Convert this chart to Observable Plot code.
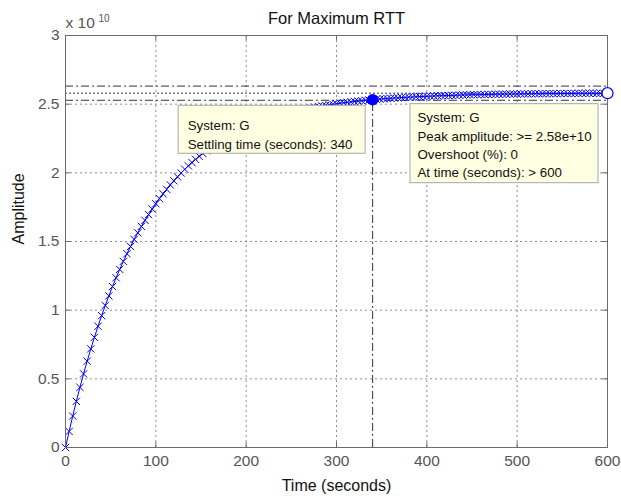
<!DOCTYPE html>
<html>
<head>
<meta charset="utf-8">
<script src="https://cdn.jsdelivr.net/npm/d3@7"></script>
<script src="https://cdn.jsdelivr.net/npm/@observablehq/plot@0.6"></script>
<style>
  html, body { margin: 0; padding: 0; background: #fff; }
  #chart svg { display: block; }
</style>
</head>
<body>
<div id="chart"></div>
<script>
// Step response samples (time in seconds, amplitude in units of 1e10)
const time = [0,4,8,12,16,20,24,28,32,36,40,44,48,52,56,60,64,68,72,76,80,84,88,92,96,100,104,108,112,116,120,124,128,132,136,140,144,148,152,156,160,164,168,172,176,180,184,188,192,196,200,204,208,212,216,220,224,228,232,236,240,244,248,252,256,260,264,268,272,276,280,284,288,292,296,300,304,308,312,316,320,324,328,332,336,340,344,348,352,356,360,364,368,372,376,380,384,388,392,396,400,404,408,412,416,420,424,428,432,436,440,444,448,452,456,460,464,468,472,476,480,484,488,492,496,500,504,508,512,516,520,524,528,532,536,540,544,548,552,556,560,564,568,572,576,580,584,588,592,596,600];
const amplitude = [
  0, 0.117, 0.229, 0.336, 0.438,
  0.536, 0.629, 0.718, 0.802, 0.883,
  0.960, 1.034, 1.104, 1.172, 1.236,
  1.297, 1.355, 1.411, 1.464, 1.515,
  1.563, 1.610, 1.654, 1.696, 1.736,
  1.775, 1.812, 1.847, 1.880, 1.912,
  1.942, 1.971, 1.999, 2.026, 2.051,
  2.075, 2.098, 2.120, 2.141, 2.161,
  2.180, 2.198, 2.216, 2.233, 2.248,
  2.264, 2.278, 2.292, 2.305, 2.318,
  2.330, 2.341, 2.352, 2.363, 2.373,
  2.382, 2.391, 2.400, 2.408, 2.416,
  2.424, 2.431, 2.438, 2.444, 2.450,
  2.456, 2.462, 2.468, 2.473, 2.478,
  2.482, 2.487, 2.491, 2.495, 2.499,
  2.503, 2.507, 2.510, 2.513, 2.517,
  2.519, 2.522, 2.525, 2.528, 2.530,
  2.532, 2.535, 2.537, 2.539, 2.541,
  2.543, 2.545, 2.546, 2.548, 2.549,
  2.551, 2.552, 2.554, 2.555, 2.556,
  2.557, 2.558, 2.560, 2.561, 2.562,
  2.562, 2.563, 2.564, 2.565, 2.566,
  2.567, 2.567, 2.568, 2.569, 2.569,
  2.570, 2.570, 2.571, 2.571, 2.572,
  2.572, 2.573, 2.573, 2.574, 2.574,
  2.574, 2.575, 2.575, 2.575, 2.576,
  2.576, 2.576, 2.576, 2.577, 2.577,
  2.577, 2.577, 2.578, 2.578, 2.578,
  2.578, 2.578, 2.579, 2.579, 2.579,
  2.579, 2.579, 2.579, 2.579, 2.579, 2.580
];

const xTicks = [0, 100, 200, 300, 400, 500, 600];
const xTickLabels = ["0", "100", "200", "300", "400", "500", "600"];
const yTicks = [0, 0.5, 1, 1.5, 2, 2.5, 3];
const yTickLabels = ["0", "0.5", "1", "1.5", "2", "2.5", "3"];

const finalValue = [2.58];
const settleBounds = [2.6316, 2.5284];
const settlePoint = [{t: 340, y: 2.532}];
const peakPoint = [{t: 600, y: 2.580}];

const titleText = "For Maximum RTT";
const xLabel = "Time (seconds)";
const yLabel = "Amplitude";
const settleTip = ["System: G", "Settling time (seconds): 340"];
const peakTip = ["System: G", "Peak amplitude: >= 2.58e+10", "Overshoot (%): 0", "At time (seconds): > 600"];

const samples = time.map((t, i) => ({t, y: amplitude[i]}));

const FONT = "'Liberation Sans', Arial, Helvetica, sans-serif";
const GRID = "#8c8c8c";
const AXIS = "#6b6b6b";
const TICKTXT = "#555555";

// datatip box drawn relative to an anchor datum (pixel offsets from the anchor)
function tipBox(datum, offX, offY, w, h) {
  return (index, scales) => {
    const px = scales.x(datum.t), py = scales.y(datum.y);
    const g = d3.create("svg:g");
    g.append("rect")
      .attr("x", px + offX).attr("y", py + offY)
      .attr("width", w).attr("height", h)
      .attr("fill", "#ffffe1")
      .attr("stroke", "#a8a8a8")
      .attr("stroke-width", 1);
    return g.node();
  };
}

const chart = Plot.plot({
  width: 621,
  height: 498,
  marginLeft: 65,
  marginRight: 14,
  marginTop: 35,
  marginBottom: 51,
  style: {fontFamily: FONT, background: "#fff"},
  x: {domain: [0, 600], axis: null},
  y: {domain: [0, 3], axis: null},
  marks: [
    // grid
    Plot.ruleX(xTicks, {x: d => d, stroke: GRID, strokeDasharray: "2,3", strokeWidth: 1}),
    Plot.ruleY(yTicks, {y: d => d, stroke: GRID, strokeDasharray: "2,3", strokeWidth: 1}),
    // settling bounds and final value
    Plot.ruleY(settleBounds, {y: d => d, stroke: "#000", strokeWidth: 0.8, strokeDasharray: "8,3,2,3"}),
    Plot.ruleY(finalValue, {y: d => d, stroke: "#000", strokeWidth: 0.8, strokeDasharray: "2,2"}),
    Plot.ruleX(settlePoint, {x: "t", y1: 0, y2: "y", stroke: "#000", strokeWidth: 0.8, strokeDasharray: "8,3,2,3"}),
    // response
    Plot.line(samples, {x: "t", y: "y", stroke: "#0000ff", strokeWidth: 1}),
    Plot.dot(samples, {x: "t", y: "y", symbol: "times", r: 3.4, stroke: "#0000ff", strokeWidth: 1}),
    // box and ticks
    Plot.frame({stroke: AXIS, strokeWidth: 1}),
    Plot.tickX(xTicks, {x: d => d, insetTop: 407, stroke: AXIS}),
    Plot.tickX(xTicks, {x: d => d, insetBottom: 407, stroke: AXIS}),
    Plot.tickY(yTicks, {y: d => d, insetRight: 537, stroke: AXIS}),
    Plot.tickY(yTicks, {y: d => d, insetLeft: 537, stroke: AXIS}),
    // tick labels
    Plot.text(xTicks, {x: d => d, text: (d, i) => xTickLabels[i], frameAnchor: "bottom", dy: 18, lineAnchor: "bottom", fontSize: 15.5, fill: TICKTXT}),
    Plot.text(yTicks, {y: d => d, text: (d, i) => yTickLabels[i], frameAnchor: "left", dx: -6, textAnchor: "end", fontSize: 15.5, fill: TICKTXT}),
    Plot.text(["x 10"], {frameAnchor: "top-left", dy: -8, lineAnchor: "bottom", textAnchor: "start", fontSize: 15.5, fill: TICKTXT}),
    Plot.text(["10"], {frameAnchor: "top-left", dx: 33, dy: -14, lineAnchor: "bottom", textAnchor: "start", fontSize: 10, fill: TICKTXT}),
    // title and axis labels
    Plot.text([titleText], {frameAnchor: "top", dy: -12, lineAnchor: "bottom", fontSize: 16.5, fill: "#111"}),
    Plot.text([xLabel], {frameAnchor: "bottom", dy: 43, lineAnchor: "bottom", fontSize: 16, fill: "#111"}),
    Plot.text([yLabel], {frameAnchor: "left", dx: -42, dy: 3, rotate: -90, lineAnchor: "bottom", fontSize: 16, fill: "#111"}),
    // datatips
    tipBox(settlePoint[0], -194, 6, 187, 48),
    Plot.text(settlePoint, {x: "t", y: "y", text: () => settleTip.join("\n"), dx: -185, dy: 16.4, textAnchor: "start", lineAnchor: "top", lineHeight: 19 / 13.3, fontSize: 13.3, fill: "#111"}),
    tipBox(peakPoint[0], -197, 11, 188, 79),
    Plot.text(peakPoint, {x: "t", y: "y", text: () => peakTip.join("\n"), dx: -190, dy: 16.2, textAnchor: "start", lineAnchor: "top", lineHeight: 18.3 / 13.3, fontSize: 13.3, fill: "#111"}),
    // markers
    Plot.dot(settlePoint, {x: "t", y: "y", r: 5, fill: "#0000ff", stroke: "#0000ff"}),
    Plot.dot(peakPoint, {x: "t", y: "y", r: 5.5, fill: "#fff", stroke: "#0000ff", strokeWidth: 1.2})
  ]
});

document.getElementById("chart").appendChild(chart);
</script>
</body>
</html>
